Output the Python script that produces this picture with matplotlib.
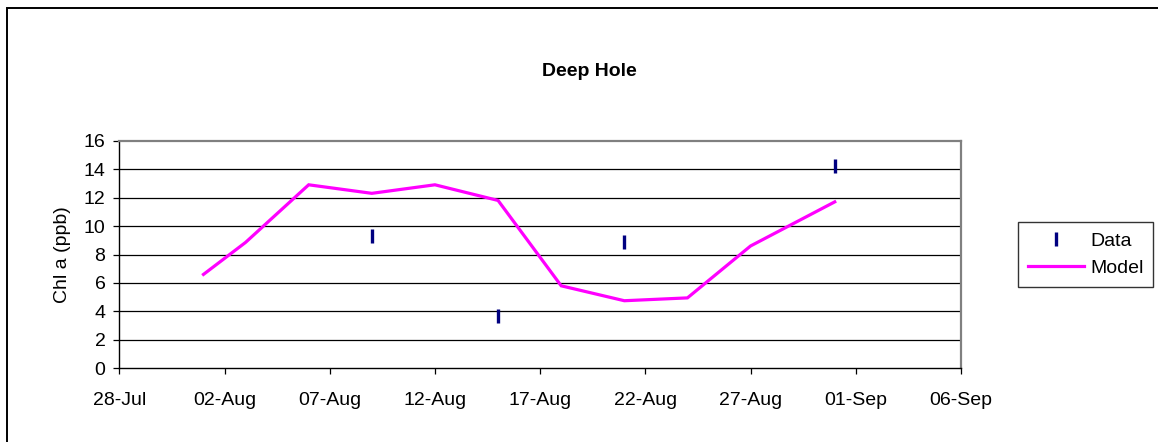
import matplotlib
matplotlib.use("Agg")
import matplotlib.pyplot as plt
import matplotlib.dates as mdates
from matplotlib.patches import Rectangle
import datetime as dt

plt.rcParams['font.family'] = ['Liberation Sans', 'DejaVu Sans']

# ---- data ----
model_dates = ["2004-08-01", "2004-08-03", "2004-08-06", "2004-08-09", "2004-08-12",
               "2004-08-15", "2004-08-18", "2004-08-21", "2004-08-24", "2004-08-27",
               "2004-08-31"]
model_values = [6.6, 8.85, 12.9, 12.3, 12.9, 11.8, 5.8, 4.75, 4.95, 8.6, 11.7]

data_dates = ["2004-08-09", "2004-08-15", "2004-08-21", "2004-08-31"]
data_values = [9.3, 3.7, 8.9, 14.2]

tick_dates = ["2004-07-28", "2004-08-02", "2004-08-07", "2004-08-12", "2004-08-17",
              "2004-08-22", "2004-08-27", "2004-09-01", "2004-09-06"]
y_ticks = [0, 2, 4, 6, 8, 10, 12, 14, 16]

title = "Deep Hole"
ylabel = "Chl a (ppb)"

def to_dt(s):
    return dt.datetime.strptime(s, "%Y-%m-%d")

md = [to_dt(s) for s in model_dates]
dd = [to_dt(s) for s in data_dates]
td = [to_dt(s) for s in tick_dates]

FS = 14
W, H = 1158, 442
fig = plt.figure(figsize=(W / 100, H / 100), dpi=100)
ax = fig.add_axes([119.3 / W, 1 - 368.3 / H, (961 - 119.3) / W, (368.3 - 140.7) / H])

for y in y_ticks[1:-1]:
    ax.axhline(y, color='black', lw=0.9, zorder=1)

ln_model, = ax.plot(md, model_values, color='#FF00FF', lw=2.3, zorder=3, label='Model',
                    solid_joinstyle='miter')
ln_data, = ax.plot(dd, data_values, linestyle='none', marker='|', markersize=10,
                   markeredgewidth=2.4, color='#000080', zorder=4, label='Data')

ax.set_xlim(td[0], td[-1])
ax.set_ylim(0, 16)
ax.set_xticks(td)
ax.xaxis.set_major_formatter(mdates.DateFormatter('%d-%b'))
ax.set_yticks(y_ticks)

ax.tick_params(axis='both', direction='out', length=4, width=0.9, colors='black',
               labelsize=FS)
ax.tick_params(axis='x', pad=13)
ax.tick_params(axis='y', pad=6)

for s in ['left', 'bottom']:
    ax.spines[s].set_color('black')
    ax.spines[s].set_linewidth(1.0)
for s in ['top', 'right']:
    ax.spines[s].set_color('#808080')
    ax.spines[s].set_linewidth(1.6)

ax.set_ylabel(ylabel, fontsize=FS, labelpad=9)

fig.text(589 / W, 1 - 72 / H, title, ha='center', va='center', fontsize=FS,
         fontweight='bold')

leg = fig.legend(handles=[ln_data, ln_model], labels=['Data', 'Model'],
                 loc='center', bbox_to_anchor=(1085.5 / W, 1 - 254.5 / H),
                 fontsize=FS, frameon=True, fancybox=False, shadow=False,
                 handlelength=2.9, handletextpad=0.3, borderpad=0.5,
                 labelspacing=0.5, borderaxespad=0)
leg.get_frame().set_edgecolor('black')
leg.get_frame().set_linewidth(1.0)

# outer chart border
fig.patches.append(Rectangle((7.5 / W, -0.1), 1.2, 1 - 7.5 / H + 0.1,
                             transform=fig.transFigure, fill=False,
                             edgecolor='black', lw=1.4))

fig.savefig("out.png", dpi=100)
